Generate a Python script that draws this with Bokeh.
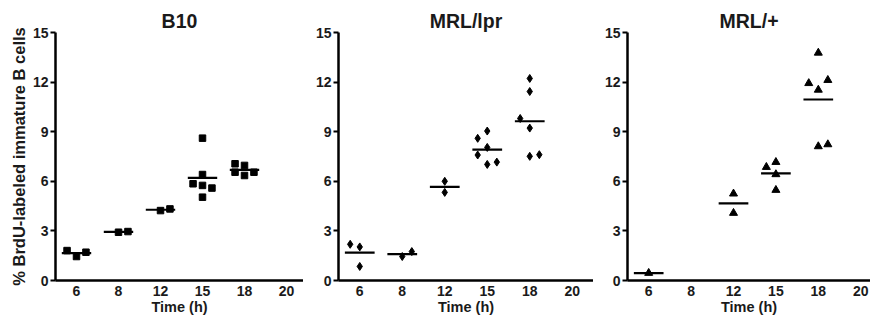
from bokeh.plotting import figure
from bokeh.layouts import row
from bokeh.models import Range1d, FixedTicker, Title
from bokeh.embed import file_html
from bokeh.resources import INLINE

# ---------------- data ----------------
time_labels = ["6", "8", "12", "15", "18", "20"]
y_ticks = [0, 3, 6, 9, 12, 15]

# B10 (squares)
b10_time = ["6", "6", "6", "8", "8", "12", "12",
            "15", "15", "15", "15", "15", "15",
            "18", "18", "18", "18", "18"]
b10_pct = [1.81, 1.45, 1.71, 2.92, 2.96, 4.23, 4.33,
           8.61, 6.41, 5.85, 5.75, 5.59, 5.04,
           7.06, 6.55, 6.96, 6.35, 6.55]
b10_side = [-1, 0, 1, 0, 1, 0, 1,
            0, 0, -1, 0, 1, 0,
            -1, -1, 0, 0, 1]

# MRL/lpr (diamonds)
lpr_time = ["6", "6", "6", "8", "8", "12", "12",
            "15", "15", "15", "15", "15", "15",
            "18", "18", "18", "18", "18", "18"]
lpr_pct = [2.19, 2.03, 0.85, 1.45, 1.75, 6.00, 5.33,
           8.60, 9.04, 8.05, 7.59, 7.02, 7.16,
           12.22, 11.43, 9.80, 9.22, 7.51, 7.61]
lpr_side = [-1, 0, 0, 0, 1, 0, 0,
            -1, 0, 0, -1, 0, 1,
            0, 0, -1, 0, 0, 1]

# MRL/+ (triangles)
mrl_time = ["6", "12", "12",
            "15", "15", "15", "15",
            "18", "18", "18", "18", "18", "18"]
mrl_pct = [0.45, 5.25, 4.08,
           6.86, 7.16, 6.42, 5.47,
           13.77, 11.93, 12.12, 11.53, 8.11, 8.23]
mrl_side = [0, 0, 0,
            -1, 0, 0, 0,
            0, -1, 1, 0, 0, 1]

y_title = "% BrdU-labeled immature B cells"

# ---------------- styling ----------------
FONT = "Liberation Sans"
TXT = "#1a1a1a"
H = 320
SIDE_STEP = 0.225
HALF_BAR = 0.35


def make_panel(title, times, pct, side, marker, msize, width, x_end,
               bl, br, bt, bb):
    p = figure(width=width, height=H, output_backend="svg", toolbar_location=None,
               x_range=Range1d(0.5, x_end), y_range=Range1d(0, 15),
               min_border_left=bl, min_border_right=br,
               min_border_top=bt, min_border_bottom=bb, title=title)
    pos = {t: i + 1 for i, t in enumerate(time_labels)}
    xs = [pos[t] + s * SIDE_STEP for t, s in zip(times, side)]
    p.scatter(xs, pct, marker=marker, size=msize, fill_color="black",
              line_color="black")
    mx, my = [], []
    for t in time_labels:
        vals = [v for tt, v in zip(times, pct) if tt == t]
        if vals:
            mx.append(pos[t])
            my.append(sum(vals) / len(vals))
    p.segment(x0=[x - HALF_BAR for x in mx], x1=[x + HALF_BAR for x in mx],
              y0=my, y1=my, line_width=2.2, line_color="black")

    p.grid.visible = False
    p.outline_line_color = None
    p.background_fill_color = "white"
    p.border_fill_color = "white"

    p.title.align = "center"
    p.title.text_font = FONT
    p.title.text_font_size = "19.5px"
    p.title.text_font_style = "bold"
    p.title.text_color = TXT
    p.title.standoff = 2

    for ax in (p.xaxis[0], p.yaxis[0]):
        ax.axis_line_width = 2.5
        ax.axis_line_color = "black"
        ax.major_tick_line_width = 2
        ax.major_tick_line_color = "black"
        ax.minor_tick_line_color = None
        ax.major_label_text_font = FONT
        ax.major_label_text_font_size = "14px"
        ax.major_label_text_font_style = "bold"
        ax.major_label_text_color = TXT
        ax.axis_label_text_font = FONT
        ax.axis_label_text_font_style = "bold"
        ax.axis_label_text_color = TXT

    xa = p.xaxis[0]
    xa.ticker = FixedTicker(ticks=list(range(1, len(time_labels) + 1)))
    xa.major_label_overrides = {i + 1: t for i, t in enumerate(time_labels)}
    xa.major_tick_out = 0
    xa.major_tick_in = 0
    xa.major_label_standoff = 5
    xa.axis_label = "Time (h)"
    xa.axis_label_text_font_size = "14.5px"
    xa.axis_label_standoff = 0

    ya = p.yaxis[0]
    ya.ticker = FixedTicker(ticks=y_ticks)
    ya.major_tick_out = 5
    ya.major_tick_in = 0
    ya.major_label_standoff = 2
    return p


p1 = make_panel("B10", b10_time, b10_pct, b10_side, "square", 6.5,
                303, 0.5 + 248 / 42, 55, 0, 32, 40)
p2 = make_panel("MRL/lpr", lpr_time, lpr_pct, lpr_side, "diamond", 8,
                290, 6.5, 35, 0, 28, 40)
p3 = make_panel("MRL/+", mrl_time, mrl_pct, mrl_side, "triangle", 8,
                277, 0.5 + 243 / 42.4, 34, 0, 28, 40)

# y-axis title on the left of the first panel, nudged upward like the original
p1.add_layout(Title(text=y_title, align="center", offset=14, standoff=3,
                    text_font=FONT, text_font_size="16.5px",
                    text_font_style="bold", text_color=TXT), "left")

layout = row(p1, p2, p3)
open("out.html", "w").write(file_html(layout, INLINE))
